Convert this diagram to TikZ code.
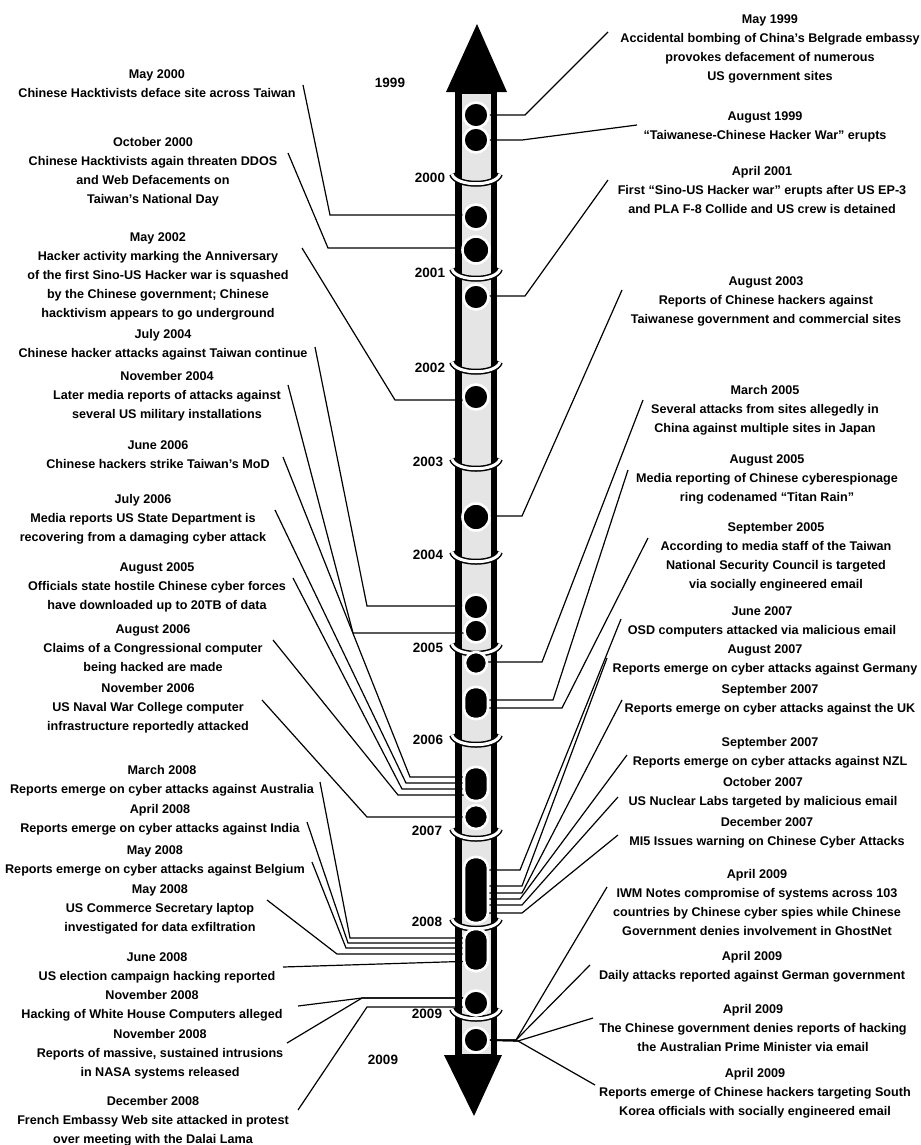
\documentclass[tikz,border=0pt]{standalone}
\usepackage{fontspec}
\setmainfont{Liberation Sans}
\pgfdeclarelayer{shaft}
\pgfdeclarelayer{links}
\pgfsetlayers{shaft,links,main}
\begin{document}
\begin{tikzpicture}[x=1bp,y=-1bp,
  evt/.style={align=center, inner sep=0pt, anchor=north,
    font=\fontsize{12.6bp}{19bp}\selectfont\bfseries},
  yr/.style={inner sep=0pt, font=\fontsize{13.5bp}{15bp}\selectfont\bfseries},
  bead/.style={circle, fill=black, draw=white, line width=2.6bp,
    minimum size=25bp, inner sep=0pt},
  capsule/.style={rectangle, rounded corners=11bp, fill=black, draw=white,
    line width=2.6bp, minimum width=24bp, inner sep=0pt},
  conn/.style={draw=black, line width=1.2bp}]
\useasboundingbox (0,0) rectangle (921,1145);

% ---------- the time shaft ----------
\begin{pgfonlayer}{shaft}
  \fill[white] (0,0) rectangle (921,1145);
  \fill[black] (446,92) -- (477,24) -- (507,92) -- cycle;
  \fill[black] (444,1055) -- (474,1116) -- (502,1055) -- cycle;
  \fill[black] (455,88) rectangle (497,1060);
  \fill[black!10] (462,94) rectangle (491,1054);
  \foreach \y in {182,277,370,467,560,652,743,837,927,1017}{
    \draw[black, line width=6bp] (452,\y-8) .. controls (456,\y+5) and (496,\y+5) .. (500,\y-8);
    \draw[white, line width=3bp] (452,\y-8) .. controls (456,\y+5) and (496,\y+5) .. (500,\y-8);
  }
\end{pgfonlayer}

% ---------- event beads ----------
\node[bead] (b1) at (476,115) {};
\node[bead] (b2) at (476,140) {};
\node[bead] (b3) at (476,217) {};
\node[bead, minimum size=27bp] (b4) at (476,250) {};
\node[bead] (b5) at (476,297) {};
\node[bead] (b6) at (476,397) {};
\node[bead, minimum size=27bp] (b7) at (476,517) {};
\node[bead] (b8) at (476,607) {};
\node[bead, minimum size=23bp] (b9) at (476,631) {};
\node[bead, minimum size=22bp] (b10) at (476,663) {};
\node[capsule, minimum height=32bp] (b11) at (476,703) {};
\node[capsule, minimum height=34bp] (b12) at (476,784) {};
\node[bead, minimum size=24bp] (b13) at (476,817) {};
\node[capsule, minimum height=66bp] (b14) at (476,890) {};
\node[capsule, minimum height=42bp] (b15) at (476,950) {};
\node[bead] (b16) at (476,1003) {};
\node[bead] (b17) at (476,1040) {};

% ---------- year labels ----------
\node[yr] (y1999) at (390,83) {1999};
\node[yr] (y2000) at (430,178) {2000};
\node[yr] (y2001) at (430,273) {2001};
\node[yr] (y2002) at (430,368) {2002};
\node[yr] (y2003) at (428,462) {2003};
\node[yr] (y2004) at (428,555) {2004};
\node[yr] (y2005) at (428,648) {2005};
\node[yr] (y2006) at (428,740) {2006};
\node[yr] (y2007) at (427,831) {2007};
\node[yr] (y2008) at (427,922) {2008};
\node[yr] (y2009) at (427,1014) {2009};
\node[yr] (y2009b) at (383,1060) {2009};

% ---------- events, left column ----------
\node[evt] (t1) at (157,69) {May 2000\\Chinese Hacktivists deface site across Taiwan};
\node[evt] (t2) at (153,137) {October 2000\\Chinese Hacktivists again threaten DDOS\\and Web Defacements on\\Taiwan's National Day};
\node[evt] (t3) at (158,232) {May 2002\\Hacker activity marking the Anniversary\\of the first Sino-US Hacker war is squashed\\by the Chinese government; Chinese\\hacktivism appears to go underground};
\node[evt] (t4) at (163,329) {July 2004\\Chinese hacker attacks against Taiwan continue};
\node[evt] (t5) at (167,371) {November 2004\\Later media reports of attacks against\\several US military installations};
\node[evt] (t6) at (158,440) {June 2006\\Chinese hackers strike Taiwan's MoD};
\node[evt] (t7) at (143,494) {July 2006\\Media reports US State Department is\\recovering from a damaging cyber attack};
\node[evt] (t8) at (157,562) {August 2005\\Officials state hostile Chinese cyber forces\\have downloaded up to 20TB of data};
\node[evt] (t9) at (153,624) {August 2006\\Claims of a Congressional computer\\being hacked are made};
\node[evt] (t10) at (148,683) {November 2006\\US Naval War College computer\\infrastructure reportedly attacked};
\node[evt] (t11) at (162,765) {March 2008\\Reports emerge on cyber attacks against Australia};
\node[evt] (t12) at (160,804) {April 2008\\Reports emerge on cyber attacks against India};
\node[evt] (t13) at (155,845) {May 2008\\Reports emerge on cyber attacks against Belgium};
\node[evt] (t14) at (160,884) {May 2008\\US Commerce Secretary laptop\\investigated for data exfiltration};
\node[evt] (t15) at (157,952) {June 2008\\US election campaign hacking reported};
\node[evt] (t16) at (152,990) {November 2008\\Hacking of White House Computers alleged};
\node[evt] (t17) at (160,1029) {November 2008\\Reports of massive, sustained intrusions\\in NASA systems released};
\node[evt] (t18) at (153,1096) {December 2008\\French Embassy Web site attacked in protest\\over meeting with the Dalai Lama};

% ---------- events, right column ----------
\node[evt] (u1) at (770,14) {May 1999\\Accidental bombing of China's Belgrade embassy\\provokes defacement of numerous\\US government sites};
\node[evt] (u2) at (765,111) {August 1999\\``Taiwanese-Chinese Hacker War'' erupts};
\node[evt] (u3) at (762,166) {April 2001\\First ``Sino-US Hacker war'' erupts after US EP-3\\and PLA F-8 Collide and US crew is detained};
\node[evt] (u4) at (766,276) {August 2003\\Reports of Chinese hackers against\\Taiwanese government and commercial sites};
\node[evt] (u5) at (765,385) {March 2005\\Several attacks from sites allegedly in\\China against multiple sites in Japan};
\node[evt] (u6) at (767,454) {August 2005\\Media reporting of Chinese cyberespionage\\ring codenamed ``Titan Rain''};
\node[evt] (u7) at (776,522) {September 2005\\According to media staff of the Taiwan\\National Security Council is targeted\\via socially engineered email};
\node[evt] (u8) at (762,606) {June 2007\\OSD computers attacked via malicious email};
\node[evt] (u9) at (765,644) {August 2007\\Reports emerge on cyber attacks against Germany};
\node[evt] (u10) at (770,684) {September 2007\\Reports emerge on cyber attacks against the UK};
\node[evt] (u11) at (770,737) {September 2007\\Reports emerge on cyber attacks against NZL};
\node[evt] (u12) at (763,777) {October 2007\\US Nuclear Labs targeted by malicious email};
\node[evt] (u13) at (767,817) {December 2007\\MI5 Issues warning on Chinese Cyber Attacks};
\node[evt] (u14) at (757,869) {April 2009\\IWM Notes compromise of systems across 103\\countries by Chinese cyber spies while Chinese\\Government denies involvement in GhostNet};
\node[evt] (u15) at (752,951) {April 2009\\Daily attacks reported against German government};
\node[evt] (u16) at (753,1004) {April 2009\\The Chinese government denies reports of hacking\\the Australian Prime Minister via email};
\node[evt] (u17) at (755,1068) {April 2009\\Reports emerge of Chinese hackers targeting South\\Korea officials with socially engineered email};

% ---------- free ends of the leader lines ----------
\coordinate (l1) at (303,85);   \coordinate (l2) at (288,153);
\coordinate (l3) at (302,248);  \coordinate (l4) at (315,347);
\coordinate (l5) at (288,385);  \coordinate (l6) at (283,457);
\coordinate (l7) at (275,510);  \coordinate (l8) at (293,578);
\coordinate (l9) at (273,640);  \coordinate (l10) at (262,700);
\coordinate (l11) at (320,782); \coordinate (l12) at (307,822);
\coordinate (l13) at (312,862); \coordinate (l14) at (267,900);
\coordinate (l15) at (283,967); \coordinate (l16) at (298,1006);
\coordinate (l17) at (287,1043);\coordinate (l18) at (298,1110);
\coordinate (r1) at (608,32);   \coordinate (r2) at (637,125);
\coordinate (r3) at (608,180);  \coordinate (r4) at (622,290);
\coordinate (r5) at (643,400);  \coordinate (r6) at (628,470);
\coordinate (r7) at (648,538);  \coordinate (r8) at (621,619);
\coordinate (r9) at (607,658);  \coordinate (r10) at (622,700);
\coordinate (r11) at (627,755); \coordinate (r12) at (618,797);
\coordinate (r13) at (618,835); \coordinate (r14) at (607,887);
\coordinate (r15) at (590,965); \coordinate (r16) at (593,1018);
\coordinate (r17) at (595,1085);

% ---------- leader lines ----------
\begin{pgfonlayer}{links}
  % left side
  \draw[conn] ([yshift=2bp]b3.center) -- (330,215) -- (l1);
  \draw[conn] ([yshift=2bp]b4.center) -- (328,248) -- (l2);
  \draw[conn] ([yshift=-3bp]b6.center) -- (395,400) -- (l3);
  \draw[conn] ([yshift=1bp]b8.center) -- (367,606) -- (l4);
  \draw[conn] ([yshift=-2bp]b9.center) -- (353,633) -- (l5);
  \draw[conn] ([yshift=7bp]b12.center) -- (410,777) -- (l6);
  \draw[conn] ([yshift=1bp]b12.center) -- (406,783) -- (l7);
  \draw[conn] ([yshift=-5bp]b12.center) -- (402,789) -- (l8);
  \draw[conn] ([yshift=-11bp]b12.center) -- (398,795) -- (l9);
  \draw[conn] (b13.center) -- (367,817) -- (l10);
  \draw[conn] ([yshift=12bp]b15.center) -- (350,938) -- (l11);
  \draw[conn] ([yshift=7bp]b15.center) -- (348,943) -- (l12);
  \draw[conn] ([yshift=2bp]b15.center) -- (346,948) -- (l13);
  \draw[conn] ([yshift=-4bp]b15.center) -- (337,954) -- (l14);
  \draw[conn] ([yshift=-11bp]b15.center) -- (l15);
  \draw[conn] ([yshift=5bp]b16.center) -- (362,998) -- (l16);
  \draw[conn] ([yshift=5bp]b16.center) -- (362,998) -- (l17);
  \draw[conn] ([yshift=-4bp]b16.center) -- (367,1007) -- (l18);
  % right side
  \draw[conn] (b1.center) -- (525,115) -- (r1);
  \draw[conn] (b2.center) -- (522,140) -- (r2);
  \draw[conn] ([yshift=1bp]b5.center) -- (525,296) -- (r3);
  \draw[conn] ([yshift=1bp]b7.center) -- (522,516) -- (r4);
  \draw[conn] ([yshift=1bp]b10.center) -- (542,662) -- (r5);
  \draw[conn] ([yshift=3bp]b11.center) -- (553,700) -- (r6);
  \draw[conn] ([yshift=-5bp]b11.center) -- (562,708) -- (r7);
  \draw[conn] ([yshift=20bp]b14.center) -- (520,870) -- (r8);
  \draw[conn] ([yshift=4bp]b14.center) -- (522,886) -- (r9);
  \draw[conn] ([yshift=-3bp]b14.center) -- (522,893) -- (r10);
  \draw[conn] ([yshift=-9bp]b14.center) -- (520,899) -- (r11);
  \draw[conn] ([yshift=-15bp]b14.center) -- (522,905) -- (r12);
  \draw[conn] ([yshift=-23bp]b14.center) -- (522,913) -- (r13);
  \draw[conn] (b17.center) -- (516,1040) -- (r14);
  \draw[conn] (b17.center) -- (516,1040) -- (r15);
  \draw[conn] (b17.center) -- (518,1041) -- (r16);
  \draw[conn] (b17.center) -- (518,1041) -- (r17);
\end{pgfonlayer}
\end{tikzpicture}
\end{document}
